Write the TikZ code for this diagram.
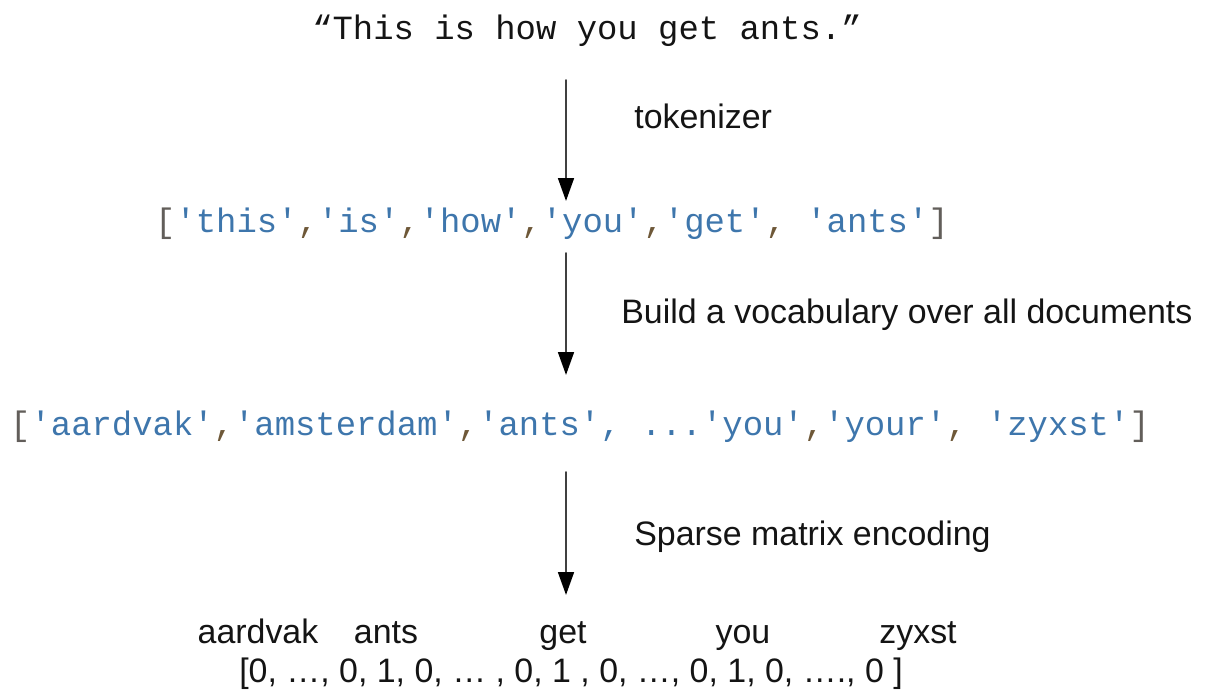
\documentclass[tikz,border=0pt]{standalone}
\usepackage{fontspec}
\setmainfont{Liberation Sans}
\newfontfamily\codefont[Ligatures=TeXOff]{Liberation Mono}
\usetikzlibrary{arrows.meta,positioning}
\definecolor{fg}{RGB}{20,20,20}
\definecolor{strc}{RGB}{62,118,172}
\definecolor{brk}{RGB}{98,94,90}
\definecolor{cmm}{RGB}{110,88,56}
\newcommand{\qs}[1]{\textcolor{strc}{'#1'}}
\newcommand{\sepc}{\textcolor{cmm}{,}}
\newcommand{\lb}{\textcolor{brk}{[}}
\newcommand{\rb}{\textcolor{brk}{]}}
\tikzset{
  every picture/.style={fg, x=0.02cm, y=-0.02cm, line cap=round, line join=round},
  every node/.style={inner sep=0pt, font=\fontsize{19.3}{23}\selectfont},
  % Textarten
  code/.style={font=\fontsize{19.3}{23}\selectfont\codefont},
  lbl/.style={anchor=base west},
  word/.style={anchor=base},
  % Pfeile
  flow/.style={line width=1.1pt, black!75,
    -{Triangle[length=13pt,width=9pt,color=black,fill=black]}},
}
\begin{document}
\begin{tikzpicture}
  \useasboundingbox (0,0) rectangle (1210,693);
  % Satz, Token, Vokabular
  \node[code, word] (sent) at (587,39) {“This is how you get ants.”};
  \node[code, word] (toks) at (552,232)
    {\lb\qs{this}\sepc\qs{is}\sepc\qs{how}\sepc\qs{you}\sepc\qs{get}\sepc{} \qs{ants}\rb};
  \node[code, word] (vocab) at (580,435)
    {\lb\qs{aardvak}\sepc\qs{amsterdam}\sepc\qs{ants}\textcolor{strc}{, ...}\qs{you}\sepc\qs{your}\sepc{} \qs{zyxst}\rb};
  % Schritte
  \node[lbl] (step1) at (634,128) {tokenizer};
  \node[lbl] (step2) at (621,323) {Build a vocabulary over all documents};
  \node[lbl] (step3) at (634,545) {Sparse matrix encoding};
  % Pfeile
  \coordinate (a1) at (566,80);  \coordinate (b1) at (566,201);
  \coordinate (a2) at (566,253); \coordinate (b2) at (566,375);
  \coordinate (a3) at (566,472); \coordinate (b3) at (566,595);
  \draw[flow] (a1) -- (b1);
  \draw[flow] (a2) -- (b2);
  \draw[flow] (a3) -- (b3);
  % Kodierung
  \node[word] (w1) at (258,643) {aardvak};
  \node[word] (w2) at (386,643) {ants};
  \node[word] (w3) at (563,643) {get};
  \node[word] (w4) at (743,643) {you};
  \node[word] (w5) at (918,643) {zyxst};
  \node[word] (vec) at (571,682) {[0, …, 0, 1, 0, … , 0, 1 , 0, …, 0, 1, 0, …., 0 ]};
\end{tikzpicture}
\end{document}
